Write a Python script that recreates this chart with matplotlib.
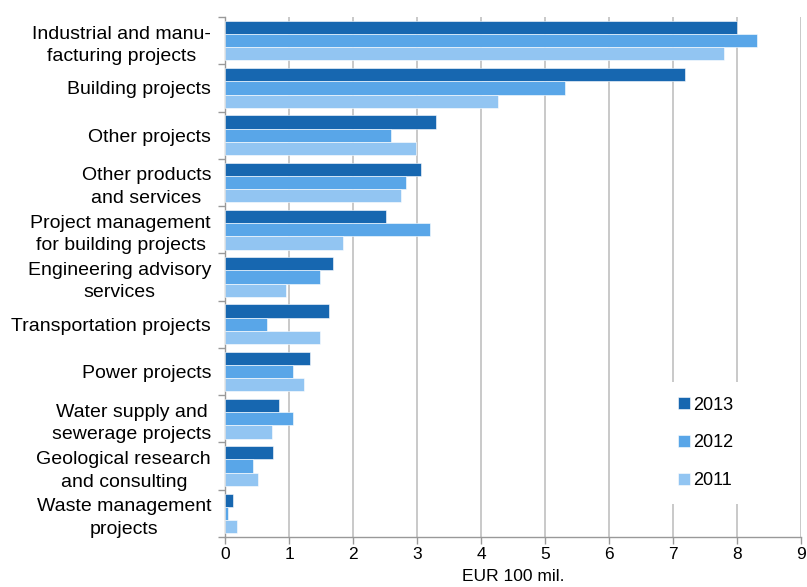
import matplotlib
matplotlib.use("Agg")
import matplotlib.pyplot as plt
import numpy as np

plt.rcParams['font.family'] = ['Liberation Sans', 'DejaVu Sans']

categories = [
    "Industrial and manu-\nfacturing projects",
    "Building projects",
    "Other projects",
    "Other products\nand services",
    "Project management\nfor building projects",
    "Engineering advisory\nservices",
    "Transportation projects",
    "Power projects",
    "Water supply and\nsewerage projects",
    "Geological research\nand consulting",
    "Waste management\nprojects",
]
series_names = ["2013", "2012", "2011"]
v2013 = [8.00, 7.19, 3.30, 3.07, 2.52, 1.68, 1.63, 1.33, 0.85, 0.75, 0.13]
v2012 = [8.32, 5.32, 2.59, 2.83, 3.20, 1.48, 0.65, 1.07, 1.06, 0.43, 0.05]
v2011 = [7.79, 4.27, 2.99, 2.75, 1.85, 0.95, 1.48, 1.23, 0.73, 0.51, 0.18]
colors = ["#1767b0", "#59a6e8", "#92c5f2"]
xticks = list(range(0, 10))

fig = plt.figure(figsize=(8.07, 5.87), dpi=100)
ax = fig.add_axes([225/807, 1-537/587, 576/807, 520/587])

n = len(categories)
y = np.arange(n)
h = 0.28
for i, (vals, col, name) in enumerate(zip([v2013, v2012, v2011], colors, series_names)):
    ax.barh(y + (i - 1) * h, vals, height=h, color=col, label=name,
            edgecolor='white', linewidth=0.4, zorder=3)

ax.set_ylim(n - 0.5, -0.5)
ax.set_xlim(0, 9)
ax.set_xticks(xticks)
ax.set_xticklabels([str(t) for t in xticks], fontsize=12.5)
ax.set_yticks(y)
ax.set_yticklabels(categories, fontsize=14, ha='right', multialignment='center',
                   linespacing=1.42)
ax.tick_params(axis='y', which='major', length=0, pad=10)
ax.set_yticks(np.arange(-0.5, n, 1.0), minor=True)
ax.tick_params(axis='y', which='minor', length=5, color='#999999', width=1)
ax.tick_params(axis='x', length=5, color='#999999', width=1, pad=2)

ax.grid(axis='x', color='#c0c0c0', linewidth=1.2, zorder=0)
ax.set_axisbelow(True)
for s in ['top', 'right']:
    ax.spines[s].set_visible(False)
for s in ['left', 'bottom']:
    ax.spines[s].set_color('#999999')
    ax.spines[s].set_linewidth(1)

ax.set_xlabel("EUR 100 mil.", fontsize=12.5, labelpad=5)

leg = ax.legend(loc='center', bbox_to_anchor=(0.835, 0.181), frameon=True,
                fontsize=13, handlelength=0.65, handleheight=0.65,
                handletextpad=0.2, labelspacing=1.15, borderpad=0.8,
                fancybox=False)
leg.get_frame().set_facecolor('white')
leg.get_frame().set_edgecolor('none')
leg.get_frame().set_alpha(1)

fig.savefig("out.png", dpi=100)
